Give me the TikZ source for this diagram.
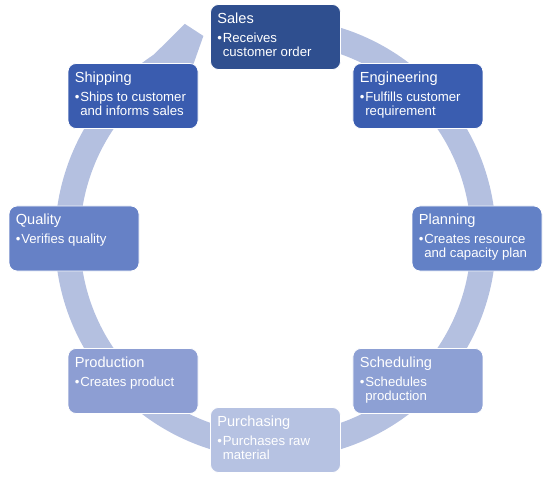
\documentclass[tikz,border=0pt]{standalone}
\usepackage{fontspec}
\setmainfont{Liberation Sans}
\usetikzlibrary{calc}
\definecolor{ringc}{HTML}{B4C0E0}
\definecolor{cSales}{HTML}{2F4F8F}
\definecolor{cEng}{HTML}{3A5DB0}
\definecolor{cPlan}{HTML}{6381C6}
\definecolor{cSched}{HTML}{8DA0D4}
\definecolor{cPurch}{HTML}{B6C2E2}
\definecolor{cProd}{HTML}{8D9ED3}
\definecolor{cQual}{HTML}{6681C6}
\definecolor{cShip}{HTML}{3A5CAF}
\newcommand{\bulone}[1]{\makebox[5.5pt][l]{\textbullet}#1}
\newcommand{\bultwo}[2]{\vtop{\baselineskip=14pt\lineskiplimit=-10pt\hbox{\makebox[5.5pt][l]{\textbullet}#1}\hbox{\hspace{5.5pt}#2}}}
\begin{document}
\begin{tikzpicture}[x=1pt,y=1pt,
  box/.style={rounded corners=8pt, draw=white, line width=0.8pt, minimum width=130pt, minimum height=65pt, inner sep=0pt},
  ttl/.style={anchor=base west, inner sep=0pt, text=white, font=\fontsize{14.6}{16}\selectfont},
  bdy/.style={anchor=base west, inner sep=0pt, text=white, font=\fontsize{13.2}{14}\selectfont}]
\useasboundingbox (0,0) rectangle (546,480);
\coordinate (C) at (275.5,241.5);
\draw[ringc, line width=25pt] ($(C)+(95:208)$) arc[start angle=95, end angle=-237, radius=208];
\fill[ringc] ($(C)+(123.5:195.5)$) -- ($(C)+(119:181)$) -- ($(C)+(109.6:215)$) -- ($(C)+(112.9:233)$) -- ($(C)+(123.5:220.5)$) -- cycle;

\node[box, fill=cSales] (sales) at ($(C)+(90:201.5)$) {};
\node[ttl] (salesT) at ($(sales.north west)+(7,-19)$) {Sales};
\node[bdy] (salesB) at ($(sales.north west)+(7,-38)$) {\bultwo{Receives}{customer order}};

\node[box, fill=cEng] (eng) at ($(C)+(45:201.5)$) {};
\node[ttl] (engT) at ($(eng.north west)+(7,-19)$) {Engineering};
\node[bdy] (engB) at ($(eng.north west)+(7,-38)$) {\bultwo{Fulfills customer}{requirement}};

\node[box, fill=cPlan] (plan) at ($(C)+(0:201.5)$) {};
\node[ttl] (planT) at ($(plan.north west)+(7,-19)$) {Planning};
\node[bdy] (planB) at ($(plan.north west)+(7,-38)$) {\bultwo{Creates resource}{and capacity plan}};

\node[box, fill=cSched] (sched) at ($(C)+(-45:201.5)$) {};
\node[ttl] (schedT) at ($(sched.north west)+(7,-19)$) {Scheduling};
\node[bdy] (schedB) at ($(sched.north west)+(7,-38)$) {\bultwo{Schedules}{production}};

\node[box, fill=cPurch] (purch) at ($(C)+(-90:201.5)$) {};
\node[ttl] (purchT) at ($(purch.north west)+(7,-19)$) {Purchasing};
\node[bdy] (purchB) at ($(purch.north west)+(7,-38)$) {\bultwo{Purchases raw}{material}};

\node[box, fill=cProd] (prod) at ($(C)+(-135:201.5)$) {};
\node[ttl] (prodT) at ($(prod.north west)+(7,-19)$) {Production};
\node[bdy] (prodB) at ($(prod.north west)+(7,-38)$) {\bulone{Creates product}};

\node[box, fill=cQual] (qual) at ($(C)+(180:201.5)$) {};
\node[ttl] (qualT) at ($(qual.north west)+(7,-19)$) {Quality};
\node[bdy] (qualB) at ($(qual.north west)+(7,-38)$) {\bulone{Verifies quality}};

\node[box, fill=cShip] (ship) at ($(C)+(135:201.5)$) {};
\node[ttl] (shipT) at ($(ship.north west)+(7,-19)$) {Shipping};
\node[bdy] (shipB) at ($(ship.north west)+(7,-38)$) {\bultwo{Ships to customer}{and informs sales}};
\end{tikzpicture}
\end{document}
